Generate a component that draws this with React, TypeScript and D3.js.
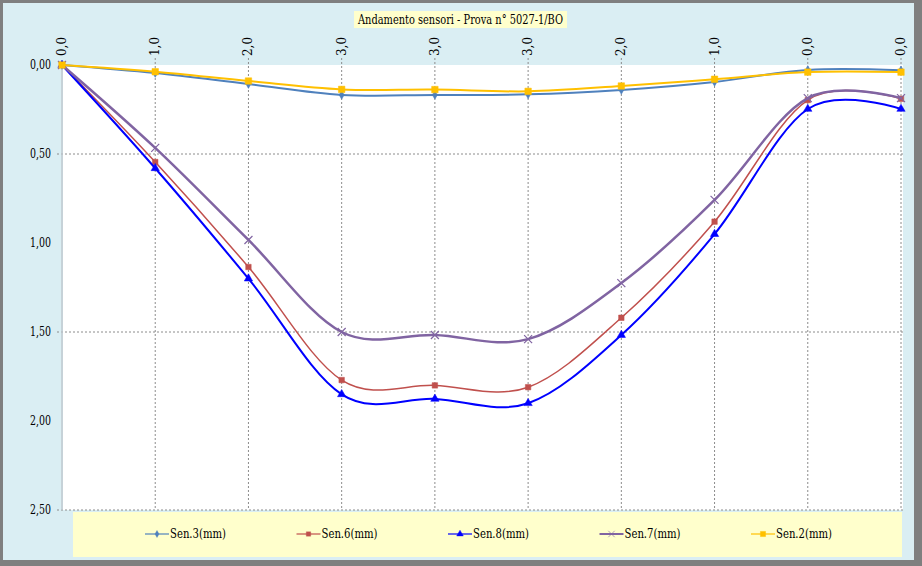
import React from 'react';
import * as d3 from 'd3';

const categories = ['0,0', '1,0', '2,0', '3,0', '3,0', '3,0', '2,0', '1,0', '0,0', '0,0'];
const yTicks = [0, 0.5, 1, 1.5, 2, 2.5];
const gridValues = [0.5, 1.5, 2.5];

const sen3 = [0, 0.045, 0.107, 0.168, 0.168, 0.165, 0.14, 0.095, 0.028, 0.03];
const sen6 = [0, 0.545, 1.135, 1.77, 1.8, 1.81, 1.42, 0.88, 0.197, 0.19];
const sen8 = [0, 0.58, 1.2, 1.85, 1.876, 1.9, 1.517, 0.95, 0.247, 0.247];
const sen7 = [0, 0.466, 0.983, 1.5, 1.517, 1.54, 1.225, 0.758, 0.186, 0.186];
const sen2 = [0, 0.038, 0.09, 0.137, 0.138, 0.148, 0.118, 0.08, 0.04, 0.04];

const series = [
  { name: 'Sen.3(mm)', values: sen3, color: '#4F81BD', width: 2, marker: 'diamond' },
  { name: 'Sen.6(mm)', values: sen6, color: '#C0504D', width: 1.5, marker: 'square' },
  { name: 'Sen.8(mm)', values: sen8, color: '#0000FF', width: 2, marker: 'triangle' },
  { name: 'Sen.7(mm)', values: sen7, color: '#8064A2', width: 2.5, marker: 'x' },
  { name: 'Sen.2(mm)', values: sen2, color: '#FFC000', width: 2, marker: 'bigsquare' },
];

const W = 922;
const H = 566;
// Liberation Serif gets swapped for a sans here, DejaVu Serif is the serif that is really there
const font = 'DejaVu Serif';

const markerPath = (kind: string) => {
  if (kind === 'diamond') return d3.symbol(d3.symbolDiamond, 22)()!;
  if (kind === 'square') return d3.symbol(d3.symbolSquare, 30)()!;
  if (kind === 'bigsquare') return d3.symbol(d3.symbolSquare, 42)()!;
  if (kind === 'triangle') return d3.symbol(d3.symbolTriangle, 30)()!;
  return 'M-4,-4L4,4M-4,4L4,-4';
};

const App = () => {
  const x = d3.scalePoint<number>().domain(d3.range(categories.length)).range([62, 901]);
  const y = d3.scaleLinear().domain([0, 2.5]).range([65, 510]);
  const line = d3
    .line<number>()
    .x((_, i) => x(i)!)
    .y(d => y(d))
    .curve(d3.curveCardinal.tension(0));
  const fmt = (v: number) => v.toFixed(2).replace('.', ',');

  return (
    <div style={{ position: 'absolute', left: 0, top: 0 }}>
      <svg width={W} height={H} style={{ display: 'block' }} fontFamily={font}>
        <rect x={0} y={0} width={W} height={H} fill="#7F7F7F" />
        <rect x={3} y={3} width={911} height={557} fill="#DAEEF3" />
        <rect x={63} y={65} width={840} height={445} fill="#FFFFFF" />

        {/* title */}
        <rect x={354} y={11} width={213} height={17} fill="#FFFFCC" />
        <text
          x={358}
          y={24}
          fontSize={12}
          fill="#000"
          textLength={205}
          lengthAdjust="spacingAndGlyphs"
        >
          Andamento sensori - Prova n° 5027-1/BO
        </text>

        {/* grid */}
        {categories.map((c, i) =>
          i === 0 ? null : (
            <line key={'v' + i} x1={x(i)} x2={x(i)} y1={58} y2={510} stroke="#8C8C8C" strokeWidth={1} strokeDasharray="2,2" />
          )
        )}
        {gridValues.map(v => (
          <line key={'h' + v} x1={57} x2={903} y1={y(v)} y2={y(v)} stroke="#8C8C8C" strokeWidth={1} strokeDasharray="2,2" />
        ))}
        <line x1={62} x2={62} y1={65} y2={510} stroke="#BFC8CF" strokeWidth={1.5} />

        {/* y labels */}
        {yTicks.map(v => (
          <text
            key={'y' + v}
            x={51}
            y={y(v) + 4}
            textAnchor="end"
            fontSize={12}
            fill="#000"
            textLength={21}
            lengthAdjust="spacingAndGlyphs"
          >
            {fmt(v)}
          </text>
        ))}

        {/* category labels */}
        {categories.map((c, i) => (
          <text
            key={'c' + i}
            transform={`translate(${x(i)! + 4},56) rotate(-90)`}
            fontSize={12}
            fill="#000"
            textLength={19}
            lengthAdjust="spacingAndGlyphs"
          >
            {c}
          </text>
        ))}

        {/* series */}
        {series.map(s => (
          <g key={s.name}>
            <path d={line(s.values)!} fill="none" stroke={s.color} strokeWidth={s.width} />
            {s.values.map((v, i) => (
              <path
                key={i}
                d={markerPath(s.marker)}
                transform={`translate(${x(i)},${y(v)})`}
                fill={s.marker === 'x' ? 'none' : s.color}
                stroke={s.color}
                strokeWidth={s.marker === 'x' ? 1.2 : 0.5}
              />
            ))}
          </g>
        ))}

        {/* legend */}
        <rect x={73} y={512} width={829} height={45} fill="#FFFFCC" />
        {series.map((s, i) => {
          const lx = 145 + i * 151.5;
          return (
            <g key={'l' + s.name}>
              <line x1={lx} x2={lx + 24} y1={534} y2={534} stroke={s.color} strokeWidth={s.width > 2 ? 2 : 1.2} />
              <path
                d={markerPath(s.marker)}
                transform={`translate(${lx + 12},534) scale(0.8)`}
                fill={s.marker === 'x' ? 'none' : s.color}
                stroke={s.color}
                strokeWidth={s.marker === 'x' ? 0.8 : 0.5}
              />
              <text
                x={lx + 25}
                y={538}
                fontSize={12}
                fill="#000"
                textLength={56}
                lengthAdjust="spacingAndGlyphs"
              >
                {s.name}
              </text>
            </g>
          );
        })}
      </svg>
    </div>
  );
};

export default App;
